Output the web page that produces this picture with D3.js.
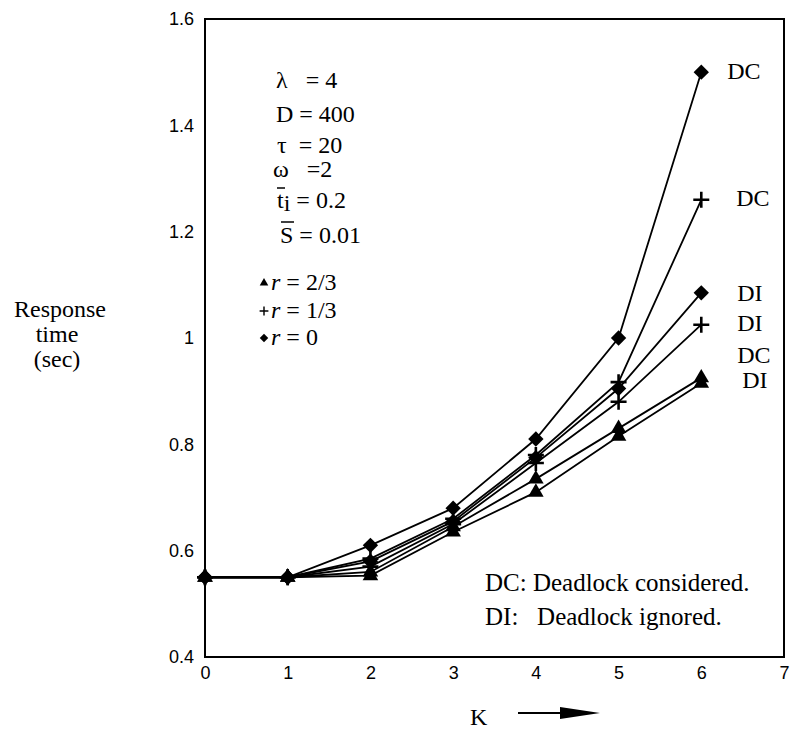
<!DOCTYPE html>
<html>
<head>
<meta charset="utf-8">
<script src="https://cdn.jsdelivr.net/npm/d3@7"></script>
<style>
  body { margin: 0; background: #fff; }
  svg { display: block; }
</style>
</head>
<body>
<div id="chart"></div>
<script>
// K values on the x axis
var kValues = [0, 1, 2, 3, 4, 5, 6];

// response time (sec)
var dcR0  = [0.55, 0.55, 0.61, 0.68, 0.81, 1.00, 1.50];
var diR0  = [0.55, 0.55, 0.58, 0.655, 0.775, 0.905, 1.085];
var dcR13 = [0.55, 0.55, 0.585, 0.66, 0.78, 0.917, 1.26];
var diR13 = [0.55, 0.55, 0.57, 0.65, 0.765, 0.88, 1.025];
var dcR23 = [0.55, 0.55, 0.56, 0.645, 0.735, 0.83, 0.925];
var diR23 = [0.55, 0.55, 0.553, 0.635, 0.71, 0.815, 0.915];

var xTicks = [0, 1, 2, 3, 4, 5, 6, 7];
var yTicks = [0.4, 0.6, 0.8, 1, 1.2, 1.4, 1.6];
var yTickLabels = ["0.4", "0.6", "0.8", "1", "1.2", "1.4", "1.6"];

var series = [
  { values: dcR0,  marker: "diamond",  label: "DC", dx: 26, dy: 7 },
  { values: dcR13, marker: "plus",     label: "DC", dx: 35, dy: 6 },
  { values: diR0,  marker: "diamond",  label: "DI", dx: 36, dy: 8 },
  { values: diR13, marker: "plus",     label: "DI", dx: 36, dy: 6 },
  { values: dcR23, marker: "triangle", label: "DC", dx: 36, dy: -15 },
  { values: diR23, marker: "triangle", label: "DI", dx: 41, dy: 5 }
];

var w = 792, h = 732;
var serif = "'Liberation Serif', 'Times New Roman', serif";
var sans = "'Liberation Sans', Arial, sans-serif";

var svg = d3.select("#chart")
            .append("svg")
            .attr("width", w)
            .attr("height", h);

var x = d3.scaleLinear().domain([0, 7]).range([205, 784]);
var y = d3.scaleLinear().domain([0.4, 1.6]).range([657, 19]);

// frame
svg.append("rect")
  .attr("x", x(0)).attr("y", y(1.6))
  .attr("width", x(7) - x(0)).attr("height", y(0.4) - y(1.6))
  .attr("fill", "none")
  .attr("stroke", "#000")
  .attr("stroke-width", 2);

// axes
var xAxis = svg.append("g")
  .attr("transform", "translate(0," + y(0.4) + ")")
  .call(d3.axisBottom(x).tickValues(xTicks).tickSize(0).tickPadding(9).tickFormat(d3.format("d")));

var yAxis = svg.append("g")
  .attr("transform", "translate(" + x(0) + ",0)")
  .call(d3.axisLeft(y).tickValues(yTicks).tickSize(0).tickPadding(11)
    .tickFormat(function(d, i) { return yTickLabels[i]; }));

[xAxis, yAxis].forEach(function(a) {
  a.select(".domain").remove();
  a.selectAll("text")
    .attr("font-family", sans)
    .attr("font-size", "18px")
    .attr("fill", "#000");
});

// lines
var line = d3.line()
  .x(function(d, i) { return x(kValues[i]); })
  .y(function(d) { return y(d); });

svg.selectAll("path.series")
  .data(series)
  .enter()
  .append("path")
  .attr("class", "series")
  .attr("d", function(d) { return line(d.values); })
  .attr("fill", "none")
  .attr("stroke", "#000")
  .attr("stroke-width", 1.8);

// markers
function drawMarker(g, kind, s) {
  if (kind === "plus") {
    g.append("path")
      .attr("d", "M" + (-8 * s) + ",0H" + (8 * s) + "M0," + (-8 * s) + "V" + (8 * s))
      .attr("stroke", "#000")
      .attr("stroke-width", 2.6 * s)
      .attr("fill", "none");
  } else if (kind === "diamond") {
    g.append("path")
      .attr("d", d3.symbol().type(d3.symbolSquare).size(118 * s * s)())
      .attr("transform", "rotate(45)")
      .attr("fill", "#000");
  } else {
    g.append("path")
      .attr("d", d3.symbol().type(d3.symbolTriangle).size(105 * s * s)())
      .attr("fill", "#000");
  }
}

series.forEach(function(sr) {
  sr.values.forEach(function(v, i) {
    var g = svg.append("g")
      .attr("transform", "translate(" + x(kValues[i]) + "," + y(v) + ")");
    drawMarker(g, sr.marker, 1);
  });
});

// DC / DI labels at the line ends
svg.selectAll("text.endlabel")
  .data(series)
  .enter()
  .append("text")
  .attr("class", "endlabel")
  .attr("x", function(d) { return x(6) + d.dx; })
  .attr("y", function(d) { return y(d.values[6]) + d.dy; })
  .text(function(d) { return d.label; })
  .attr("font-family", serif)
  .attr("font-size", "24px")
  .attr("fill", "#000");

// parameter block
var params = svg.append("g")
  .attr("font-family", serif)
  .attr("font-size", "24px")
  .attr("fill", "#000");

params.append("text").attr("x", 276).attr("y", 88).attr("xml:space", "preserve").text("\u03bb   = 4");
params.append("text").attr("x", 276).attr("y", 122).text("D = 400");
params.append("text").attr("x", 277).attr("y", 153).attr("xml:space", "preserve").text("\u03c4  = 20");
params.append("text").attr("x", 273).attr("y", 177).attr("xml:space", "preserve").text("\u03c9   =2");

var ti = params.append("text").attr("x", 277).attr("y", 208);
ti.append("tspan").text("t");
ti.append("tspan").attr("dy", 3).text("i");
ti.append("tspan").attr("dy", -3).text(" = 0.2");
params.append("line")
  .attr("x1", 277).attr("x2", 285).attr("y1", 188).attr("y2", 188)
  .attr("stroke", "#000").attr("stroke-width", 1.5);

params.append("text").attr("x", 280).attr("y", 243).text("S = 0.01");
params.append("line")
  .attr("x1", 281).attr("x2", 294).attr("y1", 222).attr("y2", 222)
  .attr("stroke", "#000").attr("stroke-width", 1.5);

var legendRows = [
  { marker: "triangle", text: "= 2/3", y: 290 },
  { marker: "plus", text: "= 1/3", y: 318 },
  { marker: "diamond", text: "= 0", y: 345 }
];

legendRows.forEach(function(r) {
  var g = svg.append("g").attr("transform", "translate(264," + (r.y - 7) + ")");
  drawMarker(g, r.marker, 0.55);
  var t = params.append("text").attr("x", 271).attr("y", r.y);
  t.append("tspan").attr("font-style", "italic").text("r");
  t.append("tspan").text(" " + r.text);
});

// note at bottom right
var note = svg.append("g")
  .attr("font-family", serif)
  .attr("font-size", "25px")
  .attr("fill", "#000");
note.append("text").attr("x", 485).attr("y", 591).text("DC: Deadlock considered.");
note.append("text").attr("x", 485).attr("y", 625).attr("xml:space", "preserve").text("DI:   Deadlock ignored.");

// y axis title
var ytitle = svg.append("text")
  .attr("font-family", serif)
  .attr("font-size", "24px")
  .attr("text-anchor", "middle")
  .attr("fill", "#000");
ytitle.append("tspan").attr("x", 60).attr("y", 317).text("Response");
ytitle.append("tspan").attr("x", 57).attr("y", 342).text("time");
ytitle.append("tspan").attr("x", 57).attr("y", 367).text("(sec)");

// x axis title with arrow
svg.append("text")
  .attr("x", 470).attr("y", 725)
  .attr("font-family", serif)
  .attr("font-size", "24px")
  .text("K");
svg.append("line")
  .attr("x1", 518).attr("x2", 580).attr("y1", 713).attr("y2", 713)
  .attr("stroke", "#000").attr("stroke-width", 2);
svg.append("path")
  .attr("d", "M560,707L600,713L560,719Z")
  .attr("fill", "#000");
</script>
</body>
</html>
